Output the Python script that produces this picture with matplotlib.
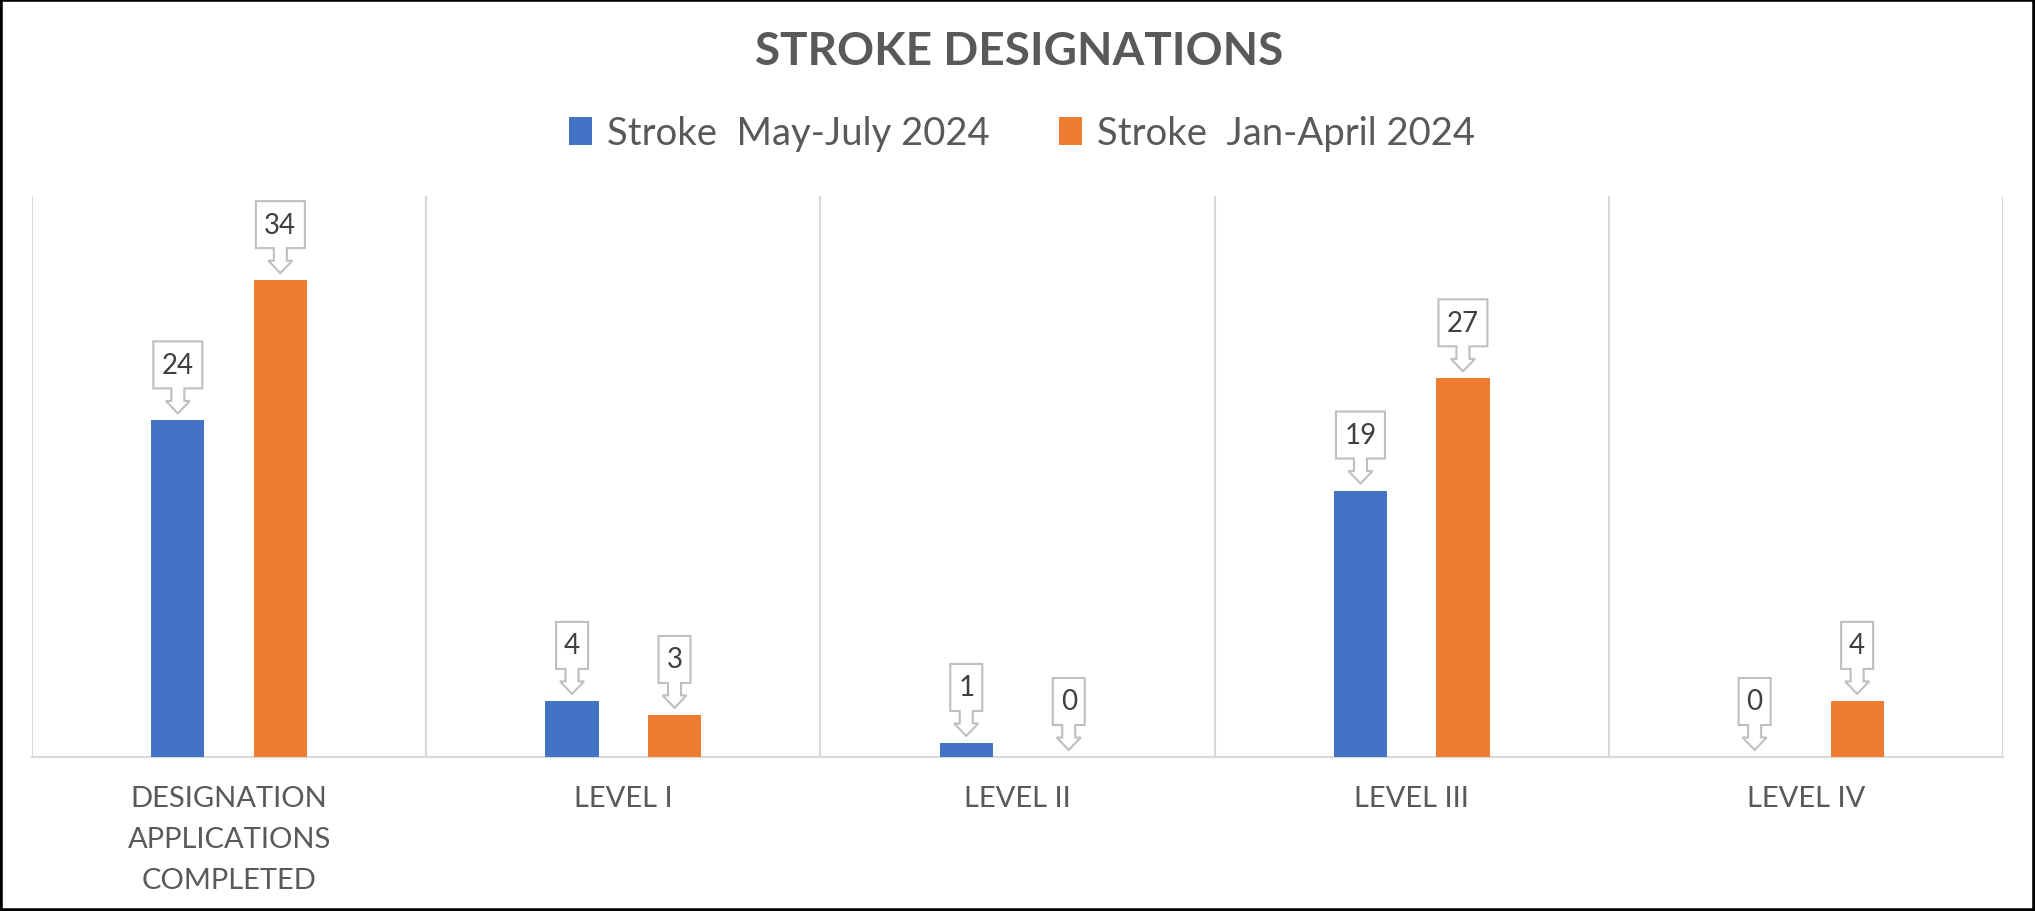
import matplotlib
matplotlib.use("Agg")
import matplotlib.pyplot as plt
import matplotlib.transforms as mtransforms
from matplotlib.patches import Patch, Polygon, Rectangle
import numpy as np

categories = ["DESIGNATION\nAPPLICATIONS\nCOMPLETED", "LEVEL I", "LEVEL II", "LEVEL III", "LEVEL IV"]
series_names = ["Stroke  May-July 2024", "Stroke  Jan-April 2024"]
may_july = [24, 4, 1, 19, 0]
jan_april = [34, 3, 0, 27, 4]
colors = ["#4472C4", "#ED7D31"]
title = "STROKE DESIGNATIONS"

FONT = "Lato"
DPI = 100
fig = plt.figure(figsize=(20.35, 9.12), dpi=DPI)
ax = fig.add_axes([32/2035, 1-758/912, (2003-32)/2035, (758-197)/912])

x = np.arange(len(categories))
bw = 0.135
off = 0.13
b1 = ax.bar(x - off, may_july, bw, color=colors[0], zorder=3)
b2 = ax.bar(x + off, jan_april, bw, color=colors[1], zorder=3)

ax.set_xlim(-0.5, len(categories) - 0.5)
ax.set_ylim(0, 40)
for s in ["top", "right", "left"]:
    ax.spines[s].set_visible(False)
ax.spines["bottom"].set_color("#d9d9d9")
ax.spines["bottom"].set_linewidth(1.5)
ax.set_yticks([])
for b in np.arange(-0.5, len(categories), 1.0):
    ax.axvline(b, color="#d9d9d9", lw=1.5, zorder=1)

ax.set_xticks(x)
ax.set_xticklabels(categories, fontfamily=FONT, fontsize=21, color="#595959",
                   linespacing=1.72)
ax.tick_params(axis="x", length=0, pad=20)

# callouts
px = 1.0 / DPI  # inches per pixel
def callout(xd, yd, label):
    half = 24.5 if len(label) > 1 else 16
    tip = 7
    head_h, stem_h, box_h = 12.5, 12.5, 47
    hw, sw = 12, 6.5
    verts = [
        (0, tip), (-hw, tip + head_h), (-sw, tip + head_h), (-sw, tip + head_h + stem_h),
        (-half, tip + head_h + stem_h), (-half, tip + head_h + stem_h + box_h),
        (half, tip + head_h + stem_h + box_h), (half, tip + head_h + stem_h),
        (sw, tip + head_h + stem_h), (sw, tip + head_h), (hw, tip + head_h),
    ]
    verts = [(vx * px, vy * px) for vx, vy in verts]
    tr = fig.dpi_scale_trans + mtransforms.ScaledTranslation(xd, yd, ax.transData)
    poly = Polygon(verts, closed=True, facecolor="white", edgecolor="#bfbfbf",
                   lw=1.5, transform=tr, zorder=5, clip_on=False)
    ax.add_patch(poly)
    cy = (tip + head_h + stem_h + box_h / 2) * px
    ax.text(0, cy, label, transform=tr, ha="center", va="center",
            fontfamily=FONT, fontsize=20, color="#404040", zorder=6)

for xi, v in zip(x - off, may_july):
    callout(xi, v, str(v))
for xi, v in zip(x + off, jan_april):
    callout(xi, v, str(v))

fig.text(1019/2035, 1-52/912, title, ha="center", va="center", fontfamily=FONT,
         fontweight="bold", fontsize=33, color="#595959")

handles = [Patch(facecolor=c, edgecolor="none") for c in colors]
leg = fig.legend(handles, series_names, loc="center", bbox_to_anchor=(1022/2035, 1-134/912),
                 ncol=2, frameon=False, prop={"family": FONT, "size": 27.5},
                 handlelength=0.6, handleheight=0.75, handletextpad=0.4,
                 columnspacing=1.8, labelcolor="#595959")

fig.patches.append(Rectangle((0, 0), 1, 1, transform=fig.transFigure, fill=False,
                             edgecolor="black", lw=4, zorder=10))

fig.savefig("out.png", dpi=DPI)
